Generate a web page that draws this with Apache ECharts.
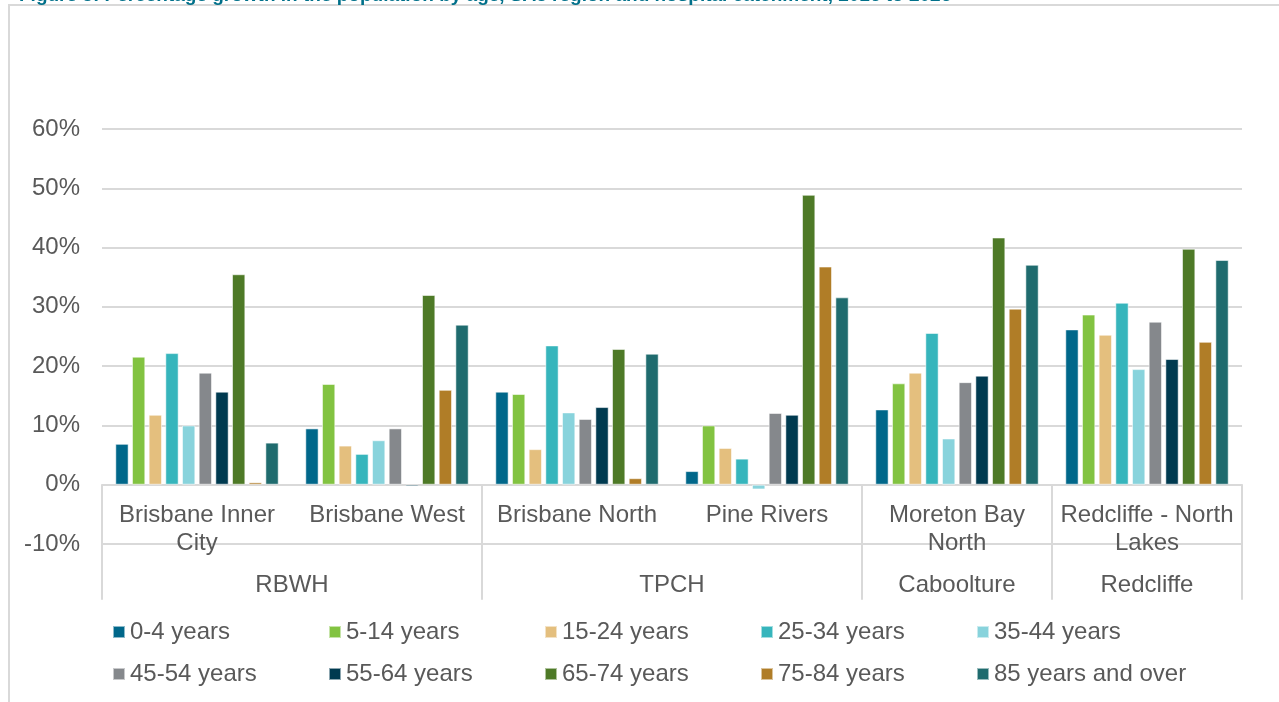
<!DOCTYPE html>
<html>
<head>
<meta charset="utf-8">
<title>Population growth by age</title>
<script src="https://cdn.jsdelivr.net/npm/echarts@6/dist/echarts.min.js"></script>
<style>
  html, body { margin: 0; padding: 0; background: #fff; }
  #chart { width: 1279px; height: 702px; }
</style>
</head>
<body>
<div id="chart"></div>
<script>
// SA3 regions (inner axis row) and hospital catchments (outer row)
const regions = ['Brisbane Inner\nCity', 'Brisbane West', 'Brisbane North', 'Pine Rivers', 'Moreton Bay\nNorth', 'Redcliffe - North\nLakes'];
// outer row laid out on half-region steps: labels at group centres, ticks at group edges
const catchmentSlots = ['', '', 'RBWH', '', '', '', 'TPCH', '', '', 'Caboolture', '', 'Redcliffe', ''];
const catchmentEdges = [0, 4, 8, 10, 12];

const ageGroups = ['0-4 years', '5-14 years', '15-24 years', '25-34 years', '35-44 years',
                   '45-54 years', '55-64 years', '65-74 years', '75-84 years', '85 years and over'];

// percentage growth per region, one array per age group
const age0to4    = [6.9, 9.5, 15.7, 2.3, 12.7, 26.2];
const age5to14   = [21.6, 17.0, 15.3, 10.0, 17.1, 28.7];
const age15to24  = [11.8, 6.6, 6.0, 6.2, 18.9, 25.3];
const age25to34  = [22.2, 5.2, 23.5, 4.4, 25.6, 30.7];
const age35to44  = [10.0, 7.5, 12.2, -0.8, 7.8, 19.5];
const age45to54  = [18.9, 9.5, 11.1, 12.1, 17.3, 27.5];
const age55to64  = [15.7, -0.3, 13.1, 11.8, 18.4, 21.2];
const age65to74  = [35.5, 32.0, 22.9, 48.9, 41.7, 39.8];
const age75to84  = [0.4, 16.0, 1.1, 36.8, 29.7, 24.1];
const age85plus  = [7.1, 27.0, 22.1, 31.6, 37.1, 37.9];

const yTicks = { min: -10, max: 60, step: 10 };

const seriesValues = [age0to4, age5to14, age15to24, age25to34, age35to44,
                      age45to54, age55to64, age65to74, age75to84, age85plus];
const palette = ['#00678A', '#82C341', '#E4BF7E', '#36B5BC', '#88D3DC',
                 '#85888C', '#003A50', '#4E7A27', '#B07D27', '#1F6B6E'];

const font = "'Liberation Sans', Arial, sans-serif";
const textGrey = '#595959';
const lineGrey = '#d9d9d9';
const labelSize = 24;

const chart = echarts.init(document.getElementById('chart'), null, { renderer: 'canvas' });

chart.setOption({
  animation: false,
  color: palette,
  textStyle: { fontFamily: font },
  title: {
    text: 'Figure 3: Percentage growth in the population by age, SA3 region and hospital catchment, 2016 to 2026',
    left: 14,
    top: -19,
    textStyle: { color: '#00708A', fontSize: 19, fontWeight: 'bold', fontFamily: font, lineHeight: 19 }
  },
  graphic: [{
    type: 'rect',
    silent: true,
    shape: { x: 9, y: 5, width: 1400, height: 800 },
    style: { fill: 'none', stroke: lineGrey, lineWidth: 2 }
  }],
  grid: { left: 102, right: 37, top: 129, bottom: 158, containLabel: false },
  legend: {
    data: ageGroups,
    left: 112,
    top: 616,
    padding: 0,
    width: 1080,
    itemWidth: 12,
    itemHeight: 12,
    itemGap: 10,
    icon: 'rect',
    textStyle: { color: textGrey, fontSize: labelSize, fontFamily: font, width: 188, lineHeight: 32, overflow: 'none' }
  },
  xAxis: [{
    type: 'category',
    data: regions,
    axisLine: { show: true, onZero: true, lineStyle: { color: lineGrey, width: 2 } },
    axisTick: { show: false },
    axisLabel: { interval: 0, color: textGrey, fontSize: labelSize, lineHeight: 28, margin: -43, fontFamily: font },
    splitLine: { show: false }
  }, {
    type: 'category',
    data: catchmentSlots,
    boundaryGap: false,
    position: 'bottom',
    axisLine: { show: false, onZero: true, onZeroAxisIndex: 0 },
    axisTick: {
      show: true,
      length: 115,
      interval: function (idx) { return catchmentEdges.indexOf(idx) >= 0; },
      lineStyle: { color: lineGrey, width: 2 }
    },
    axisLabel: { interval: 0, color: textGrey, fontSize: labelSize, margin: 29, fontFamily: font },
    splitLine: { show: false }
  }],
  yAxis: {
    type: 'value',
    min: yTicks.min,
    max: yTicks.max,
    interval: yTicks.step,
    axisLine: { show: false },
    axisTick: { show: false },
    axisLabel: { formatter: '{value}%', color: textGrey, fontSize: labelSize, margin: 22, padding: [4, 0, 0, 0], fontFamily: font },
    splitLine: { show: true, lineStyle: { color: lineGrey, width: 2 } }
  },
  series: seriesValues.map((vals, i) => ({
    name: ageGroups[i],
    type: 'bar',
    xAxisIndex: 0,
    data: vals,
    barGap: '25%',
    barCategoryGap: '14%',
    itemStyle: { borderColor: 'rgba(255,255,255,0.55)', borderWidth: 1 }
  }))
});
</script>
</body>
</html>
